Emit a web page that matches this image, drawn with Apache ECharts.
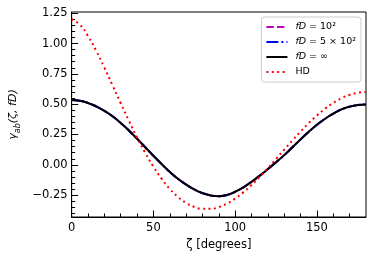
<!DOCTYPE html>
<html>
<head>
<meta charset="utf-8">
<script src="https://cdn.jsdelivr.net/npm/echarts@6/dist/echarts.min.js"></script>
<style>
html,body{margin:0;padding:0;background:#fff;}
#c{width:374px;height:260px;}
</style>
</head>
<body>
<div id="c"></div>
<script>
// ---- data ----
var zeta = [0,5,10,15,20,25,30,35,40,45,50,55,60,65,70,75,80,85,90,95,100,105,110,115,120,125,130,135,140,145,150,155,160,165,170,175,180];
var gammaInf = [0.535,0.528,0.51,0.482,0.445,0.40,0.345,0.283,0.215,0.145,0.075,0.007,-0.058,-0.115,-0.163,-0.203,-0.233,-0.252,-0.258,-0.248,-0.222,-0.185,-0.14,-0.09,-0.035,0.022,0.08,0.145,0.21,0.272,0.33,0.38,0.422,0.457,0.48,0.493,0.497];
var gamma100 = [0.535,0.528,0.51,0.482,0.445,0.40,0.345,0.283,0.215,0.145,0.075,0.007,-0.058,-0.115,-0.163,-0.203,-0.233,-0.252,-0.258,-0.248,-0.222,-0.185,-0.14,-0.09,-0.035,0.022,0.08,0.145,0.21,0.272,0.33,0.38,0.422,0.457,0.48,0.493,0.497];
var gamma500 = [0.535,0.528,0.51,0.482,0.445,0.40,0.345,0.283,0.215,0.145,0.075,0.007,-0.058,-0.115,-0.163,-0.203,-0.233,-0.252,-0.258,-0.248,-0.222,-0.185,-0.14,-0.09,-0.035,0.022,0.08,0.145,0.21,0.272,0.33,0.38,0.422,0.457,0.48,0.493,0.497];
var hd = [1.2,1.156,1.062,0.94,0.802,0.656,0.508,0.364,0.226,0.099,-0.015,-0.114,-0.198,-0.264,-0.314,-0.347,-0.363,-0.363,-0.348,-0.319,-0.278,-0.227,-0.166,-0.099,-0.027,0.049,0.125,0.201,0.275,0.344,0.407,0.463,0.511,0.549,0.577,0.594,0.6];
var xTicks = [0,50,100,150];
var xMinorTicks = [10,20,30,40,60,70,80,90,110,120,130,140,160,170];
var yTicks = [-0.25,0,0.25,0.5,0.75,1.0,1.25];
var yTickLabels = ['\u22120.25','0.00','0.25','0.50','0.75','1.00','1.25'];
var yMinorTicks = [-0.4,-0.35,-0.3,-0.2,-0.15,-0.1,-0.05,0.05,0.1,0.15,0.2,0.3,0.35,0.4,0.45,0.55,0.6,0.65,0.7,0.8,0.85,0.9,0.95,1.05,1.1,1.15,1.2];
var seriesNames = ['fD100','fD500','fDinf','HD'];

function pairs(ys){ return zeta.map(function(z,i){ return [z, ys[i]]; }); }

var FONT = 'DejaVu Sans';
var chart = echarts.init(document.getElementById('c'), null, {renderer:'canvas'});
var legendLabels = {
  'fD100': '{i|fD} = 10\u00b2',
  'fD500': '{i|fD} = 5 \u00d7 10\u00b2',
  'fDinf': '{i|fD} = \u221e',
  'HD': 'HD'
};
var option = {
  animation: false,
  backgroundColor: '#fff',
  grid: {left: 68, right: 8, top: 12, bottom: 43, show: true, borderColor: '#000', borderWidth: 1, backgroundColor: 'transparent'},
  legend: {
    right: 13, top: 17, orient: 'vertical',
    itemWidth: 21, itemHeight: 10, itemGap: 5,
    padding: [5, 5, 5, 4],
    backgroundColor: '#fff', borderColor: '#ccc', borderWidth: 1, borderRadius: 3,
    data: seriesNames,
    itemStyle: {opacity: 0},
    formatter: function(n){ return legendLabels[n]; },
    textStyle: {fontFamily: FONT, fontSize: 9.5, lineHeight: 10, color: '#000', padding: [0,0,0,3],
      rich: {i: {fontFamily: FONT, fontSize: 9.5, lineHeight: 10, fontStyle: 'italic', color: '#000'}}}
  },
  xAxis: [{
    type: 'value', min: 0, max: 180,
    name: '\u03b6 [degrees]', nameLocation: 'middle', nameGap: 21,
    nameTextStyle: {fontFamily: FONT, fontSize: 11.5, color: '#000'},
    axisLine: {show: true, onZero: false, lineStyle: {color: '#000', width: 1}},
    axisTick: {show: true, inside: true, length: 6.5, lineStyle: {color: '#000', width: 1}, customValues: xTicks},
    axisLabel: {show: true, customValues: xTicks, fontFamily: FONT, fontSize: 11.5, color: '#000', margin: 5},
    splitLine: {show: false}
  },{
    type: 'value', min: 0, max: 180, position: 'bottom',
    axisLine: {show: false, onZero: false},
    axisTick: {show: true, inside: true, length: 3.5, lineStyle: {color: '#000', width: 1}, customValues: xMinorTicks},
    axisLabel: {show: false},
    splitLine: {show: false}
  }],
  yAxis: [{
    type: 'value', min: -0.43, max: 1.26,
    name: '\u03b3{sub|ab}(\u03b6, {i|fD})', nameLocation: 'middle', nameGap: 47,
    nameTextStyle: {fontFamily: FONT, fontSize: 11, color: '#000', fontStyle: 'italic',
      rich: {
        sub: {fontFamily: FONT, fontSize: 8, fontStyle: 'italic', color: '#000', verticalAlign: 'bottom', lineHeight: 16},
        i: {fontFamily: FONT, fontSize: 11, fontStyle: 'italic', color: '#000'}
      }},
    axisLine: {show: true, onZero: false, lineStyle: {color: '#000', width: 1}},
    axisTick: {show: true, inside: true, length: 6.5, lineStyle: {color: '#000', width: 1}, customValues: yTicks},
    axisLabel: {show: true, customValues: yTicks, fontFamily: FONT, fontSize: 11.5, color: '#000', margin: 4,
      formatter: function(v){ var k = yTicks.findIndex(function(t){ return Math.abs(t - v) < 1e-6; }); return k >= 0 ? yTickLabels[k] : ''; }},
    splitLine: {show: false}
  },{
    type: 'value', min: -0.43, max: 1.26, position: 'left',
    axisLine: {show: false, onZero: false},
    axisTick: {show: true, inside: true, length: 3.5, lineStyle: {color: '#000', width: 1}, customValues: yMinorTicks},
    axisLabel: {show: false},
    splitLine: {show: false}
  }],
  series: [
    {name: 'fD100', type: 'line', data: pairs(gamma100), showSymbol: false, symbol: 'none', smooth: true,
      lineStyle: {color: '#bf00bf', width: 2, type: [7.4, 3.2]}, itemStyle: {color: '#bf00bf'}},
    {name: 'fD500', type: 'line', data: pairs(gamma500), showSymbol: false, symbol: 'none', smooth: true,
      lineStyle: {color: '#0000ff', width: 2, type: [12, 3, 2, 3]}, itemStyle: {color: '#0000ff'}},
    {name: 'fDinf', type: 'line', data: pairs(gammaInf), showSymbol: false, symbol: 'none', smooth: true,
      lineStyle: {color: '#000', width: 2}, itemStyle: {color: '#000'}},
    {name: 'HD', type: 'line', data: pairs(hd), showSymbol: false, symbol: 'none', smooth: true,
      lineStyle: {color: '#ff0000', width: 2, type: [2, 3.4]}, itemStyle: {color: '#ff0000'}}
  ]
};
chart.setOption(option);
</script>
</body>
</html>
